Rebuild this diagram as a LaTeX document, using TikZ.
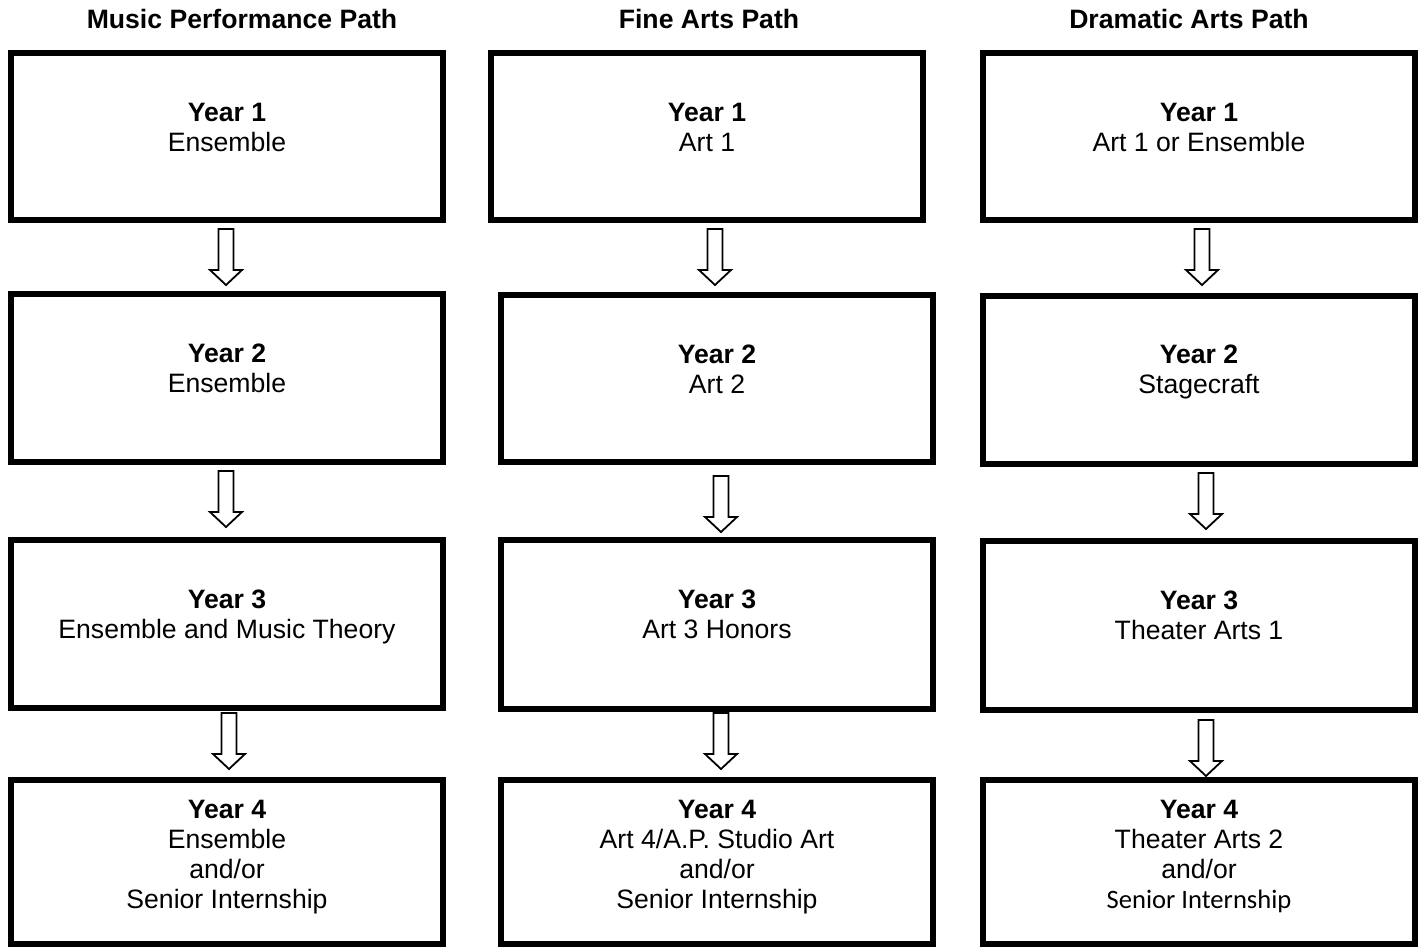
\documentclass[tikz,border=0pt]{standalone}
\usepackage{fontspec}
\setmainfont{Liberation Sans}
\newfontfamily\carlito{Carlito}
\begin{document}
\begin{tikzpicture}[x=0.5pt,y=-0.5pt,
  box/.style={draw=black, line width=3pt, minimum width=216pt, inner sep=0pt, outer sep=0pt},
  txt/.style={align=center, inner sep=0pt, font=\fontsize{13.3}{15}\selectfont, anchor=north},
  ttl/.style={font=\fontsize{13.3}{15}\selectfont\bfseries, anchor=base, inner sep=0pt},
  downarrow/.pic={\draw[line width=0.9pt, fill=white, line join=miter]
     (-7.5,0) -- (7.5,0) -- (7.5,41) -- (16,41) -- (0,56) -- (-16,41) -- (-7.5,41) -- cycle;}]
\useasboundingbox (0,0) rectangle (1423,947);

% titles
\node[ttl] (h1) at (242,29) {Music Performance Path};
\node[ttl] (h2) at (709,29) {Fine Arts Path};
\node[ttl] (h3) at (1189,29) {Dramatic Arts Path};

% column 1
\node[box, minimum height=83.5pt] (b11) at (227,136.5) {};
\node[box, minimum height=84pt]   (b12) at (227,378) {};
\node[box, minimum height=84pt]   (b13) at (227,624) {};
\node[box, minimum height=82pt]   (b14) at (227,862) {};
\node[txt] (t11) at (227,102.5) {\textbf{Year 1}\\Ensemble};
\node[txt] (t12) at (227,344) {\textbf{Year 2}\\Ensemble};
\node[txt] (t13) at (227,589.5) {\textbf{Year 3}\\Ensemble and Music Theory};
\node[txt] (t14) at (227,799.5) {\textbf{Year 4}\\Ensemble\\and/or\\Senior Internship};

% column 2
\node[box, minimum height=83.5pt] (b21) at (707,136.5) {};
\node[box, minimum height=83.5pt] (b22) at (717,378.5) {};
\node[box, minimum height=84.5pt] (b23) at (717,624.5) {};
\node[box, minimum height=82pt]   (b24) at (717,862) {};
\node[txt] (t21) at (707,102.5) {\textbf{Year 1}\\Art 1};
\node[txt] (t22) at (717,344.5) {\textbf{Year 2}\\Art 2};
\node[txt] (t23) at (717,589.5) {\textbf{Year 3}\\Art 3 Honors};
\node[txt] (t24) at (717,799.5) {\textbf{Year 4}\\Art 4/A.P. Studio Art\\and/or\\Senior Internship};

% column 3
\node[box, minimum height=83.5pt] (b31) at (1199,136.5) {};
\node[box, minimum height=84pt]   (b32) at (1199,380) {};
\node[box, minimum height=84.5pt] (b33) at (1199,625.5) {};
\node[box, minimum height=82pt]   (b34) at (1199,862) {};
\node[txt] (t31) at (1199,102.5) {\textbf{Year 1}\\Art 1 or Ensemble};
\node[txt] (t32) at (1199,344.5) {\textbf{Year 2}\\Stagecraft};
\node[txt] (t33) at (1199,591) {\textbf{Year 3}\\Theater Arts 1};
\node[txt] (t34) at (1199,799.5) {\textbf{Year 4}\\Theater Arts 2\\and/or\\{\carlito Senior Internship}};

% arrows
\pic (a11) at (226,229) {downarrow};
\pic (a12) at (226,471) {downarrow};
\pic (a13) at (229,713) {downarrow};
\pic (a21) at (715,229) {downarrow};
\pic (a22) at (721,476) {downarrow};
\pic (a23) at (721,713) {downarrow};
\pic (a31) at (1202,229) {downarrow};
\pic (a32) at (1206,473) {downarrow};
\pic (a33) at (1206,720) {downarrow};
\end{tikzpicture}
\end{document}
